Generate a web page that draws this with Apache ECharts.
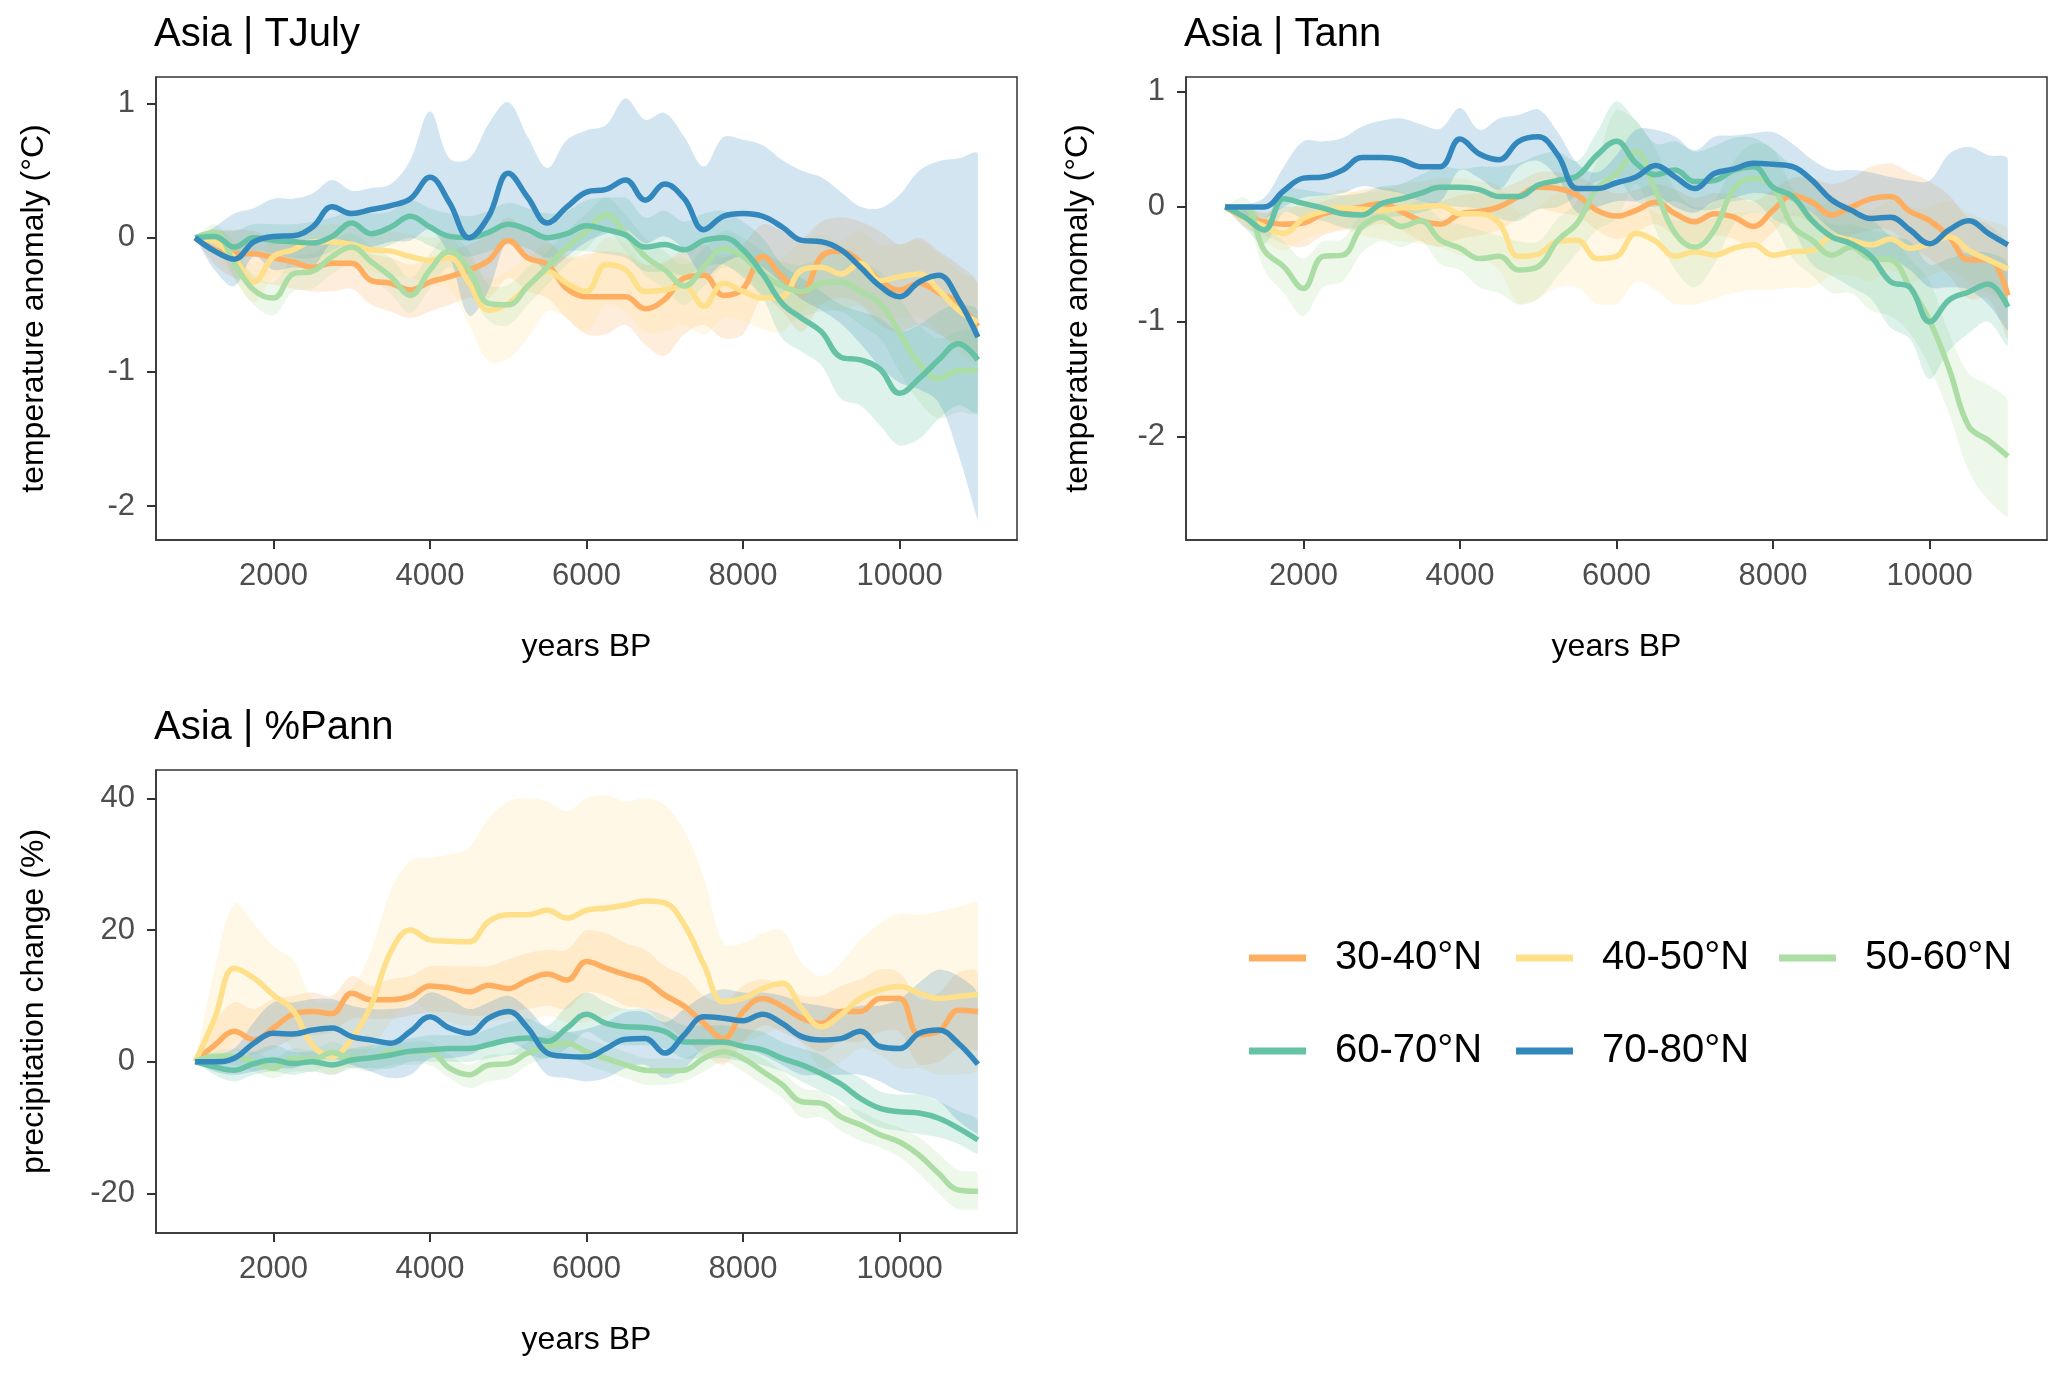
<!DOCTYPE html>
<html>
<head>
<meta charset="utf-8">
<script src="https://cdn.jsdelivr.net/npm/echarts@6/dist/echarts.min.js"></script>
<style>
html,body{margin:0;padding:0;background:#fff;}
#chart{width:2067px;height:1374px;}
</style>
</head>
<body>
<div id="chart"></div>
<script>
// ---------------- data ----------------
const years = [1000,1250,1500,1750,2000,2250,2500,2750,3000,3250,3500,3750,4000,4250,4500,4750,5000,5250,5500,5750,6000,6250,6500,6750,7000,7250,7500,7750,8000,8250,8500,8750,9000,9250,9500,9750,10000,10250,10500,10750,11000];

const groups = ["30-40°N","40-50°N","50-60°N","60-70°N","70-80°N"];
const panelTitles = ["Asia | TJuly","Asia | Tann","Asia | %Pann"];
const xTicks = [2000,4000,6000,8000,10000];
const yTicksTJuly = [-2,-1,0,1];
const yTicksTann = [-2,-1,0,1];
const yTicksPann = [-20,0,20,40];

// --- TJuly ---
const tjuly_3040_mean = [0,-0.09,-0.12,-0.12,-0.15,-0.18,-0.22,-0.19,-0.19,-0.32,-0.34,-0.39,-0.33,-0.29,-0.24,-0.17,-0.02,-0.15,-0.20,-0.38,-0.44,-0.44,-0.44,-0.53,-0.46,-0.30,-0.28,-0.43,-0.38,-0.14,-0.29,-0.41,-0.14,-0.10,-0.18,-0.32,-0.39,-0.34,-0.41,-0.49,-0.66];
const tjuly_3040_hi = [0,0.05,0.06,0.05,0,0,-0.05,-0.02,-0.02,-0.12,-0.15,-0.2,-0.15,-0.1,-0.05,0.02,0.15,0.03,-0.02,-0.15,-0.12,-0.1,-0.12,-0.2,-0.18,-0.08,-0.05,-0.15,-0.05,0.1,0.05,0,0.12,0.15,0.12,0.05,-0.05,0,-0.1,-0.2,-0.35];
const tjuly_3040_lo = [0,-0.2,-0.3,-0.32,-0.35,-0.38,-0.4,-0.4,-0.38,-0.5,-0.55,-0.6,-0.55,-0.5,-0.45,-0.45,-0.3,-0.4,-0.45,-0.6,-0.72,-0.72,-0.65,-0.8,-0.88,-0.72,-0.65,-0.75,-0.72,-0.45,-0.55,-0.7,-0.5,-0.45,-0.5,-0.65,-0.7,-0.65,-0.72,-0.8,-0.9];

const tjuly_4050_mean = [0,-0.03,-0.15,-0.33,-0.14,-0.09,-0.03,-0.03,-0.05,-0.09,-0.10,-0.14,-0.17,-0.15,-0.34,-0.54,-0.49,-0.36,-0.25,-0.34,-0.40,-0.20,-0.24,-0.40,-0.39,-0.36,-0.51,-0.34,-0.40,-0.45,-0.44,-0.24,-0.22,-0.27,-0.19,-0.32,-0.29,-0.27,-0.39,-0.54,-0.63];
const tjuly_4050_hi = [0,0.05,-0.02,-0.2,0,0.05,0.08,0.1,0.08,0.05,0.05,0.02,0,0,-0.15,-0.3,-0.25,-0.15,-0.05,-0.12,-0.15,0,-0.05,-0.2,-0.18,-0.15,-0.3,-0.12,-0.2,-0.2,-0.15,-0.02,0.02,-0.02,0.05,-0.05,-0.05,-0.02,-0.12,-0.25,-0.35];
const tjuly_4050_lo = [0,-0.1,-0.3,-0.48,-0.3,-0.25,-0.2,-0.2,-0.2,-0.25,-0.28,-0.3,-0.35,-0.38,-0.65,-0.92,-0.9,-0.75,-0.55,-0.6,-0.7,-0.5,-0.55,-0.7,-0.7,-0.65,-0.72,-0.6,-0.62,-0.68,-0.7,-0.55,-0.5,-0.55,-0.5,-0.6,-0.6,-0.6,-0.7,-0.85,-0.95];

const tjuly_5060_mean = [0,0.04,-0.19,-0.39,-0.45,-0.27,-0.25,-0.14,-0.07,-0.18,-0.29,-0.43,-0.24,-0.10,-0.24,-0.49,-0.50,-0.36,-0.22,-0.07,0.05,0.17,0.03,-0.14,-0.24,-0.36,-0.22,-0.08,-0.14,-0.27,-0.36,-0.40,-0.34,-0.33,-0.40,-0.49,-0.71,-0.94,-1.05,-0.99,-0.99];
const tjuly_5060_hi = [0,0.1,-0.08,-0.28,-0.33,-0.15,-0.12,-0.02,0.03,-0.06,-0.15,-0.3,-0.12,0.02,-0.1,-0.35,-0.35,-0.22,-0.1,0.05,0.18,0.3,0.17,0,-0.1,-0.2,-0.08,0.05,0,-0.1,-0.18,-0.2,-0.15,-0.12,-0.18,-0.25,-0.45,-0.65,-0.75,-0.7,-0.7];
const tjuly_5060_lo = [0,-0.03,-0.3,-0.5,-0.58,-0.4,-0.38,-0.27,-0.2,-0.3,-0.42,-0.56,-0.38,-0.22,-0.38,-0.62,-0.65,-0.5,-0.35,-0.2,-0.08,0.05,-0.1,-0.28,-0.38,-0.5,-0.36,-0.22,-0.28,-0.42,-0.52,-0.58,-0.55,-0.55,-0.65,-0.75,-1.0,-1.22,-1.35,-1.3,-1.3];

const tjuly_6070_mean = [0,0.01,-0.07,0,-0.02,-0.03,-0.04,0.01,0.11,0.03,0.08,0.16,0.08,0.01,0,0.04,0.10,0.06,0,0.03,0.09,0.06,0.02,-0.07,-0.05,-0.09,-0.02,0,-0.09,-0.27,-0.49,-0.60,-0.70,-0.89,-0.91,-0.98,-1.16,-1.05,-0.91,-0.79,-0.91];
const tjuly_6070_hi = [0,0.05,0.05,0.1,0.1,0.1,0.12,0.15,0.2,0.18,0.2,0.28,0.22,0.18,0.16,0.2,0.26,0.22,0.18,0.2,0.28,0.3,0.3,0.15,0.2,0.12,0.18,0.2,0.12,0,-0.2,-0.3,-0.4,-0.5,-0.55,-0.6,-0.7,-0.65,-0.55,-0.5,-0.55];
const tjuly_6070_lo = [0,-0.05,-0.18,-0.1,-0.12,-0.15,-0.15,-0.1,-0.02,-0.1,-0.05,0,-0.06,-0.12,-0.14,-0.1,-0.05,-0.08,-0.15,-0.1,-0.1,-0.12,-0.15,-0.25,-0.25,-0.28,-0.22,-0.2,-0.3,-0.45,-0.75,-0.85,-0.95,-1.2,-1.25,-1.4,-1.55,-1.5,-1.35,-1.25,-1.3];

const tjuly_7080_mean = [0,-0.10,-0.16,-0.03,0.01,0.015,0.08,0.23,0.18,0.21,0.24,0.29,0.45,0.26,0,0.16,0.48,0.30,0.11,0.23,0.34,0.36,0.43,0.28,0.40,0.29,0.06,0.16,0.18,0.16,0.08,-0.02,-0.03,-0.09,-0.22,-0.36,-0.44,-0.33,-0.28,-0.46,-0.74];
const tjuly_7080_hi = [0,0.08,0.18,0.22,0.29,0.29,0.33,0.43,0.35,0.37,0.40,0.58,0.94,0.59,0.59,0.85,1.01,0.75,0.52,0.73,0.80,0.84,1.04,0.88,0.93,0.75,0.53,0.75,0.73,0.69,0.58,0.50,0.45,0.34,0.23,0.22,0.32,0.50,0.57,0.59,0.62];
const tjuly_7080_lo = [0,-0.24,-0.36,-0.14,-0.24,-0.22,-0.22,-0.04,-0.09,-0.07,-0.03,-0.02,0.06,-0.14,-0.58,-0.39,-0.02,-0.12,-0.24,-0.14,-0.03,0.03,0.06,-0.04,0.01,-0.09,-0.29,-0.19,-0.14,-0.22,-0.34,-0.46,-0.54,-0.64,-0.79,-0.96,-1.08,-1.13,-1.23,-1.61,-2.10];

// --- Tann ---
const tann_3040_mean = [0,-0.09,-0.13,-0.15,-0.14,-0.06,-0.03,0,0.03,-0.04,-0.12,-0.15,-0.06,-0.04,0,0.09,0.17,0.16,0.10,-0.03,-0.08,-0.03,0.04,-0.06,-0.13,-0.06,-0.09,-0.17,-0.03,0.10,0.04,-0.07,0,0.07,0.09,-0.04,-0.12,-0.26,-0.46,-0.46,-0.77];
const tann_3040_hi = [0,-0.02,-0.05,0,0,0.05,0.1,0.15,0.17,0.13,0.05,0.05,0.1,0.12,0.15,0.22,0.3,0.3,0.27,0.18,0.12,0.15,0.2,0.15,0.08,0.12,0.1,0.05,0.15,0.25,0.25,0.2,0.25,0.35,0.38,0.3,0.22,0.1,-0.1,-0.15,-0.35];
const tann_3040_lo = [0,-0.18,-0.25,-0.32,-0.35,-0.25,-0.2,-0.18,-0.15,-0.2,-0.3,-0.35,-0.28,-0.25,-0.2,-0.1,-0.02,-0.05,-0.08,-0.2,-0.28,-0.22,-0.15,-0.25,-0.32,-0.25,-0.28,-0.35,-0.22,-0.08,-0.15,-0.3,-0.25,-0.2,-0.2,-0.35,-0.45,-0.6,-0.8,-0.8,-1.15];

const tann_4050_mean = [0,-0.09,-0.17,-0.23,-0.10,-0.04,-0.01,-0.02,-0.03,-0.01,0,0.01,-0.06,-0.06,-0.14,-0.43,-0.41,-0.30,-0.29,-0.45,-0.43,-0.23,-0.30,-0.43,-0.39,-0.42,-0.36,-0.33,-0.42,-0.39,-0.38,-0.26,-0.29,-0.33,-0.28,-0.36,-0.32,-0.26,-0.38,-0.46,-0.54];
const tann_4050_hi = [0,0,-0.05,-0.05,0.05,0.1,0.15,0.12,0.15,0.2,0.22,0.25,0.25,0.22,0.18,-0.05,0,0.12,0.15,-0.05,-0.05,0.02,-0.05,-0.12,-0.1,-0.1,-0.05,-0.05,-0.1,-0.05,-0.05,0.05,0.02,-0.02,0.05,0,0,0.05,-0.05,-0.12,-0.2];
const tann_4050_lo = [0,-0.15,-0.3,-0.38,-0.28,-0.22,-0.2,-0.25,-0.28,-0.3,-0.32,-0.35,-0.42,-0.45,-0.55,-0.85,-0.8,-0.7,-0.7,-0.85,-0.85,-0.65,-0.72,-0.85,-0.85,-0.8,-0.75,-0.72,-0.72,-0.7,-0.7,-0.6,-0.6,-0.65,-0.55,-0.65,-0.6,-0.55,-0.65,-0.75,-0.85];

const tann_5060_mean = [0,0,-0.38,-0.52,-0.71,-0.43,-0.42,-0.17,-0.09,-0.17,-0.12,-0.29,-0.36,-0.45,-0.43,-0.55,-0.52,-0.29,-0.14,0.16,0.29,0.48,0.14,-0.23,-0.35,-0.20,0.16,0.25,0.17,-0.17,-0.29,-0.42,-0.35,-0.45,-0.46,-0.70,-0.99,-1.41,-1.91,-2.03,-2.17];
const tann_5060_hi = [0,0.08,-0.15,-0.3,-0.45,-0.3,-0.28,-0.05,0.05,0,0.05,-0.1,-0.15,-0.2,-0.25,-0.3,-0.3,-0.1,0.05,0.4,0.85,0.75,0.5,0.15,0,0.05,0.4,0.55,0.5,0.15,-0.05,-0.15,-0.15,-0.2,-0.25,-0.45,-0.65,-1.1,-1.45,-1.55,-1.7];
const tann_5060_lo = [0,-0.05,-0.55,-0.75,-0.95,-0.7,-0.65,-0.4,-0.3,-0.35,-0.3,-0.5,-0.55,-0.7,-0.75,-0.85,-0.8,-0.6,-0.4,-0.2,-0.1,0.2,-0.2,-0.55,-0.7,-0.5,-0.15,-0.05,-0.15,-0.45,-0.6,-0.75,-0.75,-0.9,-0.95,-1.1,-1.4,-1.8,-2.3,-2.55,-2.7];

const tann_6070_mean = [0,-0.09,-0.20,0.07,0.03,-0.01,-0.06,-0.07,0.03,0.07,0.12,0.17,0.17,0.15,0.09,0.09,0.19,0.23,0.27,0.45,0.57,0.38,0.28,0.32,0.22,0.23,0.32,0.35,0.17,0.09,-0.12,-0.26,-0.32,-0.43,-0.65,-0.70,-1.00,-0.81,-0.74,-0.67,-0.87];
const tann_6070_hi = [0,-0.02,-0.1,0.15,0.15,0.12,0.1,0.12,0.18,0.2,0.28,0.35,0.33,0.35,0.35,0.38,0.45,0.48,0.4,0.65,0.92,0.75,0.55,0.57,0.48,0.53,0.6,0.6,0.5,0.35,0.2,0.05,-0.02,-0.1,-0.25,-0.3,-0.5,-0.45,-0.4,-0.4,-0.5];
const tann_6070_lo = [0,-0.18,-0.32,-0.05,-0.1,-0.12,-0.18,-0.2,-0.1,-0.08,-0.05,0,0,-0.02,-0.1,-0.12,-0.02,0,0.1,0.22,0.25,0.05,0,0.05,-0.02,-0.02,0.05,0.05,-0.1,-0.2,-0.5,-0.6,-0.7,-0.8,-1.05,-1.15,-1.5,-1.25,-1.1,-1.0,-1.2];

const tann_7080_mean = [0,0,0,0.14,0.25,0.26,0.32,0.43,0.43,0.41,0.35,0.35,0.59,0.46,0.41,0.57,0.61,0.45,0.16,0.16,0.21,0.26,0.36,0.26,0.16,0.29,0.33,0.38,0.37,0.35,0.23,0.06,-0.03,-0.10,-0.09,-0.20,-0.32,-0.20,-0.12,-0.23,-0.33];
const tann_7080_hi = [0,0.02,0.08,0.35,0.57,0.57,0.6,0.7,0.75,0.77,0.72,0.68,0.86,0.67,0.77,0.8,0.85,0.65,0.38,0.3,0.45,0.67,0.67,0.61,0.49,0.61,0.62,0.64,0.65,0.55,0.41,0.32,0.32,0.3,0.26,0.23,0.23,0.46,0.52,0.45,0.41];
const tann_7080_lo = [0,-0.1,-0.1,0,0.08,0.1,0.12,0.18,0.15,0.12,0.05,0.05,0.32,0.25,0.15,0.35,0.4,0.25,-0.05,0,0.05,0.05,0.1,0,-0.05,0.05,0.08,0.12,0.1,0.05,-0.05,-0.2,-0.3,-0.45,-0.45,-0.55,-0.7,-0.7,-0.72,-0.85,-1.08];

// --- %Pann ---
const pann_3040_mean = [0,2.5,4.6,3.3,5.1,7.2,7.6,7.3,10.4,9.4,9.4,9.9,11.5,11.2,10.6,11.6,11.1,12.4,13.3,12.4,15.2,14.2,13.2,12.3,10.1,8.4,5.8,3.5,7.6,9.6,8.4,6.6,5.8,7.6,7.6,9.6,9.6,4.1,4.6,7.8,7.6];
const pann_3040_hi = [0,6,9,8,9.5,10,10.5,10,13,11.5,12.5,13,14.5,14.5,14.5,14.5,15.5,16.5,17,17,20,19.5,18,17,14.5,13,10,9,11.5,12.5,11.5,10,10,11.5,12.5,14,13.5,9.5,10.5,13.5,13.5];
const pann_3040_lo = [0,0.5,1.5,1,2,3.5,4,4.5,6.5,6.5,6.5,7,7.5,7.5,7,7,7.5,8,8.5,8,10.5,10,8.5,8,5.5,3.5,1,-0.5,3,5.5,4.5,3,1.5,3,3,4.5,4.5,-0.5,0,2,2];

const pann_4050_mean = [0,6.6,14.2,12.7,10.1,7.8,2.5,0.8,3.5,8.6,16.7,20.0,18.5,18.3,18.2,21.3,22.3,22.3,23.0,21.8,23.0,23.3,23.8,24.4,24.1,20.8,14.7,9.1,9.6,11.1,11.9,8.1,5.3,7.1,9.6,10.9,11.4,10.4,9.6,9.9,10.2];
const pann_4050_hi = [0,14,24,21,17.5,15.5,9.5,9,11,17,26,30.5,31,31.5,32.5,37,39.5,40,39.5,38,40,40.5,39.5,40,39,35,28,18,18,19.5,20,15,13,15,18.5,21,22.5,22.3,22.8,23.5,24];
const pann_4050_lo = [0,0.5,3,4.5,4.5,2,-0.5,-2,-0.5,2,6,9,7.5,6,5.5,6,6.5,6,7,6,6,7,8,8,8,7,5,2,3,4,5,3,-1,0,2,1,-1,-1,-2,-2,-1];

const pann_5060_mean = [0,0.8,0.8,0,-1.0,0.5,0.25,1.4,0.5,0.5,1.5,1.5,1.5,-1.0,-2.0,-0.5,-0.3,1.3,2.3,2.8,1.5,0.5,-0.5,-1.3,-1.4,-1.3,0.5,1.5,0.5,-1.5,-3.5,-6.1,-6.3,-8.4,-9.6,-11.1,-12.2,-14.2,-17.0,-19.5,-19.7];
const pann_5060_hi = [0,1.5,2,1.5,0.5,2,1.8,3,2,2,3,3,3,1,-0.5,1,1.2,3,4,4.5,3.5,2.5,1.5,0.5,0.5,0.5,2,3,2,0.5,-1.5,-4,-4.5,-6.5,-7.5,-9,-10,-11.5,-14,-16.5,-17];
const pann_5060_lo = [0,-0.5,-0.5,-1.5,-2.5,-1.5,-1.5,-0.5,-1,-1.5,-0.5,-0.5,-0.5,-2.5,-4,-3,-2.5,-0.5,0.5,1,-0.5,-1.5,-2.5,-3.5,-3.5,-3,-1.5,0,-1.5,-3.5,-5.5,-8.5,-8.5,-10.5,-12,-13,-14.5,-17,-20,-22.5,-22.5];

const pann_6070_mean = [0,-0.8,-1.3,-0.3,0.25,-0.3,0,-0.5,0.25,0.6,1.0,1.6,1.8,2.0,2.0,2.6,3.3,3.6,3.1,5.1,7.2,5.8,5.3,5.2,4.6,3.0,3.0,3.0,2.3,1.8,0.5,-0.5,-1.8,-3.4,-5.6,-7.1,-7.6,-7.8,-8.6,-10.1,-11.9];
const pann_6070_hi = [0,0.5,0.5,1.5,2.5,1.5,1.5,1,2,2.5,3,3.5,4,4,4,5,6,6.5,5.5,8.5,10.5,9,8,8,7,5.5,5.5,5.5,5,4.5,3,2,1,-1,-2.5,-4.5,-5,-5,-6,-7.5,-9];
const pann_6070_lo = [0,-2,-3,-2,-1.5,-2,-1.5,-2,-1,-1,-1,0,0,0,0,0.5,1,1,0.5,2,4.5,3,2.5,2.5,2,0.5,0.5,0.5,0,-0.5,-1.5,-3,-4.5,-6,-8.5,-10,-10.5,-11,-11.5,-12.5,-14];

const pann_7080_mean = [0,0,0.5,2.8,4.3,4.2,4.8,5.1,3.8,3.3,2.8,4.6,6.8,5.1,4.3,6.6,7.6,5.1,1.3,0.8,0.7,2.0,3.4,3.5,1.3,4.1,6.8,6.6,6.2,7.2,5.8,3.8,3.3,3.5,4.6,2.3,2.0,4.3,4.8,2.8,-0.4];
const pann_7080_hi = [0,1,2,6,9,9,9.5,9.5,8.5,8,8,8.5,10.5,9.5,8,9,10,8,5,4.5,5,6,7.5,7.5,6,8,10,11,10.5,10.5,10,9,8.5,8,8.5,8.5,9.5,12,14,13,10];
const pann_7080_lo = [0,-1.5,-2,-1.5,-1,-1,0,0.5,-0.5,-1.5,-2.5,-2,0.5,0.5,1,2.5,3,1.5,-2,-2.5,-3,-2.5,-1,-0.5,-2.5,-1,2,2.5,2,1,-0.5,-2,-2,-2,-2,-3,-4.5,-5,-6,-9,-11];

// ---------------- styling ----------------
const colors = ["#FDAE61","#FEE08B","#ABDDA4","#66C2A5","#3288BD"];
const FONT = "'Liberation Sans', Arial, Helvetica, sans-serif";

const panels = [
  {title: panelTitles[0], yName: "temperature anomaly (°C)", yTicks: yTicksTJuly, ymin: -2.253, ymax: 1.198, nameGap: 106,
   mean: [tjuly_3040_mean,tjuly_4050_mean,tjuly_5060_mean,tjuly_6070_mean,tjuly_7080_mean],
   lo: [tjuly_3040_lo,tjuly_4050_lo,tjuly_5060_lo,tjuly_6070_lo,tjuly_7080_lo],
   hi: [tjuly_3040_hi,tjuly_4050_hi,tjuly_5060_hi,tjuly_6070_hi,tjuly_7080_hi],
   grid: {left:156, top:77, width:861, height:463}, titleLeft: 154, titleTop: 15},
  {title: panelTitles[1], yName: "temperature anomaly (°C)", yTicks: yTicksTann, ymin: -2.898, ymax: 1.13, nameGap: 92,
   mean: [tann_3040_mean,tann_4050_mean,tann_5060_mean,tann_6070_mean,tann_7080_mean],
   lo: [tann_3040_lo,tann_4050_lo,tann_5060_lo,tann_6070_lo,tann_7080_lo],
   hi: [tann_3040_hi,tann_4050_hi,tann_5060_hi,tann_6070_hi,tann_7080_hi],
   grid: {left:1186, top:77, width:861, height:463}, titleLeft: 1184, titleTop: 15},
  {title: panelTitles[2], yName: "precipitation change (%)", yTicks: yTicksPann, ymin: -26.03, ymax: 44.3, nameGap: 106,
   mean: [pann_3040_mean,pann_4050_mean,pann_5060_mean,pann_6070_mean,pann_7080_mean],
   lo: [pann_3040_lo,pann_4050_lo,pann_5060_lo,pann_6070_lo,pann_7080_lo],
   hi: [pann_3040_hi,pann_4050_hi,pann_5060_hi,pann_6070_hi,pann_7080_hi],
   grid: {left:156, top:770, width:861, height:463}, titleLeft: 154, titleTop: 708}
];

function rgba(hex, a){
  const r = parseInt(hex.slice(1,3),16), g = parseInt(hex.slice(3,5),16), b = parseInt(hex.slice(5,7),16);
  return `rgba(${r},${g},${b},${a})`;
}

const option = {
  backgroundColor: '#ffffff',
  animation: false,
  textStyle: {fontFamily: FONT},
  title: [], grid: [], xAxis: [], yAxis: [], series: [], legend: []
};

panels.forEach((p, pi) => {
  option.title.push({text: p.title, left: p.titleLeft, top: p.titleTop, padding: 0,
    textStyle: {fontFamily: FONT, fontSize: 40, fontWeight: 'normal', color: '#000'}});
  option.grid.push(Object.assign({show: true, borderColor: '#333333', borderWidth: 1.5, backgroundColor: 'transparent', containLabel: false}, p.grid));
  option.xAxis.push({
    type: 'value', gridIndex: pi, min: 500, max: 11500,
    name: 'years BP', nameLocation: 'middle', nameGap: 91,
    nameTextStyle: {fontFamily: FONT, fontSize: 32, color: '#000'},
    axisLine: {show: true, onZero: false, lineStyle: {color: '#333333', width: 1.5}},
    axisTick: {show: true, customValues: xTicks, length: 9, lineStyle: {color: '#333333', width: 2}},
    axisLabel: {show: true, customValues: xTicks, formatter: v => String(v), fontFamily: FONT, fontSize: 31, color: '#4d4d4d', margin: 21},
    splitLine: {show: false}
  });
  option.yAxis.push({
    type: 'value', gridIndex: pi, min: p.ymin, max: p.ymax,
    name: p.yName, nameLocation: 'middle', nameGap: p.nameGap,
    nameTextStyle: {fontFamily: FONT, fontSize: 32, color: '#000'},
    axisLine: {show: true, onZero: false, lineStyle: {color: '#333333', width: 1.5}},
    axisTick: {show: true, customValues: p.yTicks, length: 9, lineStyle: {color: '#333333', width: 2}},
    axisLabel: {show: true, customValues: p.yTicks, formatter: v => String(v), fontFamily: FONT, fontSize: 31, color: '#4d4d4d', margin: 21},
    splitLine: {show: false}
  });
  // uncertainty bands: one polygon per group, upper edge then lower edge back
  groups.forEach((g, gi) => {
    const hi = p.hi[gi], lo = p.lo[gi];
    option.series.push({
      type: 'custom', xAxisIndex: pi, yAxisIndex: pi, name: 'band_' + pi + '_' + gi,
      silent: true, z: 1, clip: true,
      data: [[years[0], hi[0]]],
      renderItem: function (params, api) {
        const up = years.map((x, i) => api.coord([x, hi[i]]));
        const dn = years.map((x, i) => api.coord([x, lo[i]])).reverse();
        const pts = up.concat(dn);
        let x0 = Infinity, x1 = -Infinity, y0 = Infinity, y1 = -Infinity;
        pts.forEach(q => { x0 = Math.min(x0, q[0]); x1 = Math.max(x1, q[0]); y0 = Math.min(y0, q[1]); y1 = Math.max(y1, q[1]); });
        return {
          type: 'group',
          children: [{
            type: 'polygon',
            shape: {points: pts, smooth: 0.35, smoothConstraint: [[x0, y0], [x1, y1]]},
            style: {fill: rgba(colors[gi], 0.22), stroke: null}
          }]
        };
      }
    });
  });
  // mean lines
  groups.forEach((g, gi) => {
    option.series.push({
      type: 'line', xAxisIndex: pi, yAxisIndex: pi, name: g,
      smooth: 0.4, symbol: 'none', z: 3, color: colors[gi],
      lineStyle: {color: colors[gi], width: 5.5},
      data: years.map((x, i) => [x, p.mean[gi][i]])
    });
  });
});

// legend: one component per item so each sits at the reference position
const legendPos = [
  {left: 1249, top: 938}, {left: 1516, top: 938}, {left: 1779, top: 938},
  {left: 1249, top: 1031}, {left: 1516, top: 1031}
];
groups.forEach((g, gi) => {
  option.legend.push({
    data: [g], left: legendPos[gi].left, top: legendPos[gi].top, padding: 0,
    orient: 'horizontal', icon: 'rect', itemWidth: 57, itemHeight: 7, selectedMode: false,
    itemStyle: {color: colors[gi]},
    textStyle: {fontFamily: FONT, fontSize: 40, color: '#000', padding: [0,0,0,24], lineHeight: 40}
  });
});

const chart = echarts.init(document.getElementById('chart'), null, {renderer: 'canvas', width: 2067, height: 1374, devicePixelRatio: 1});
chart.setOption(option);
</script>
</body>
</html>
